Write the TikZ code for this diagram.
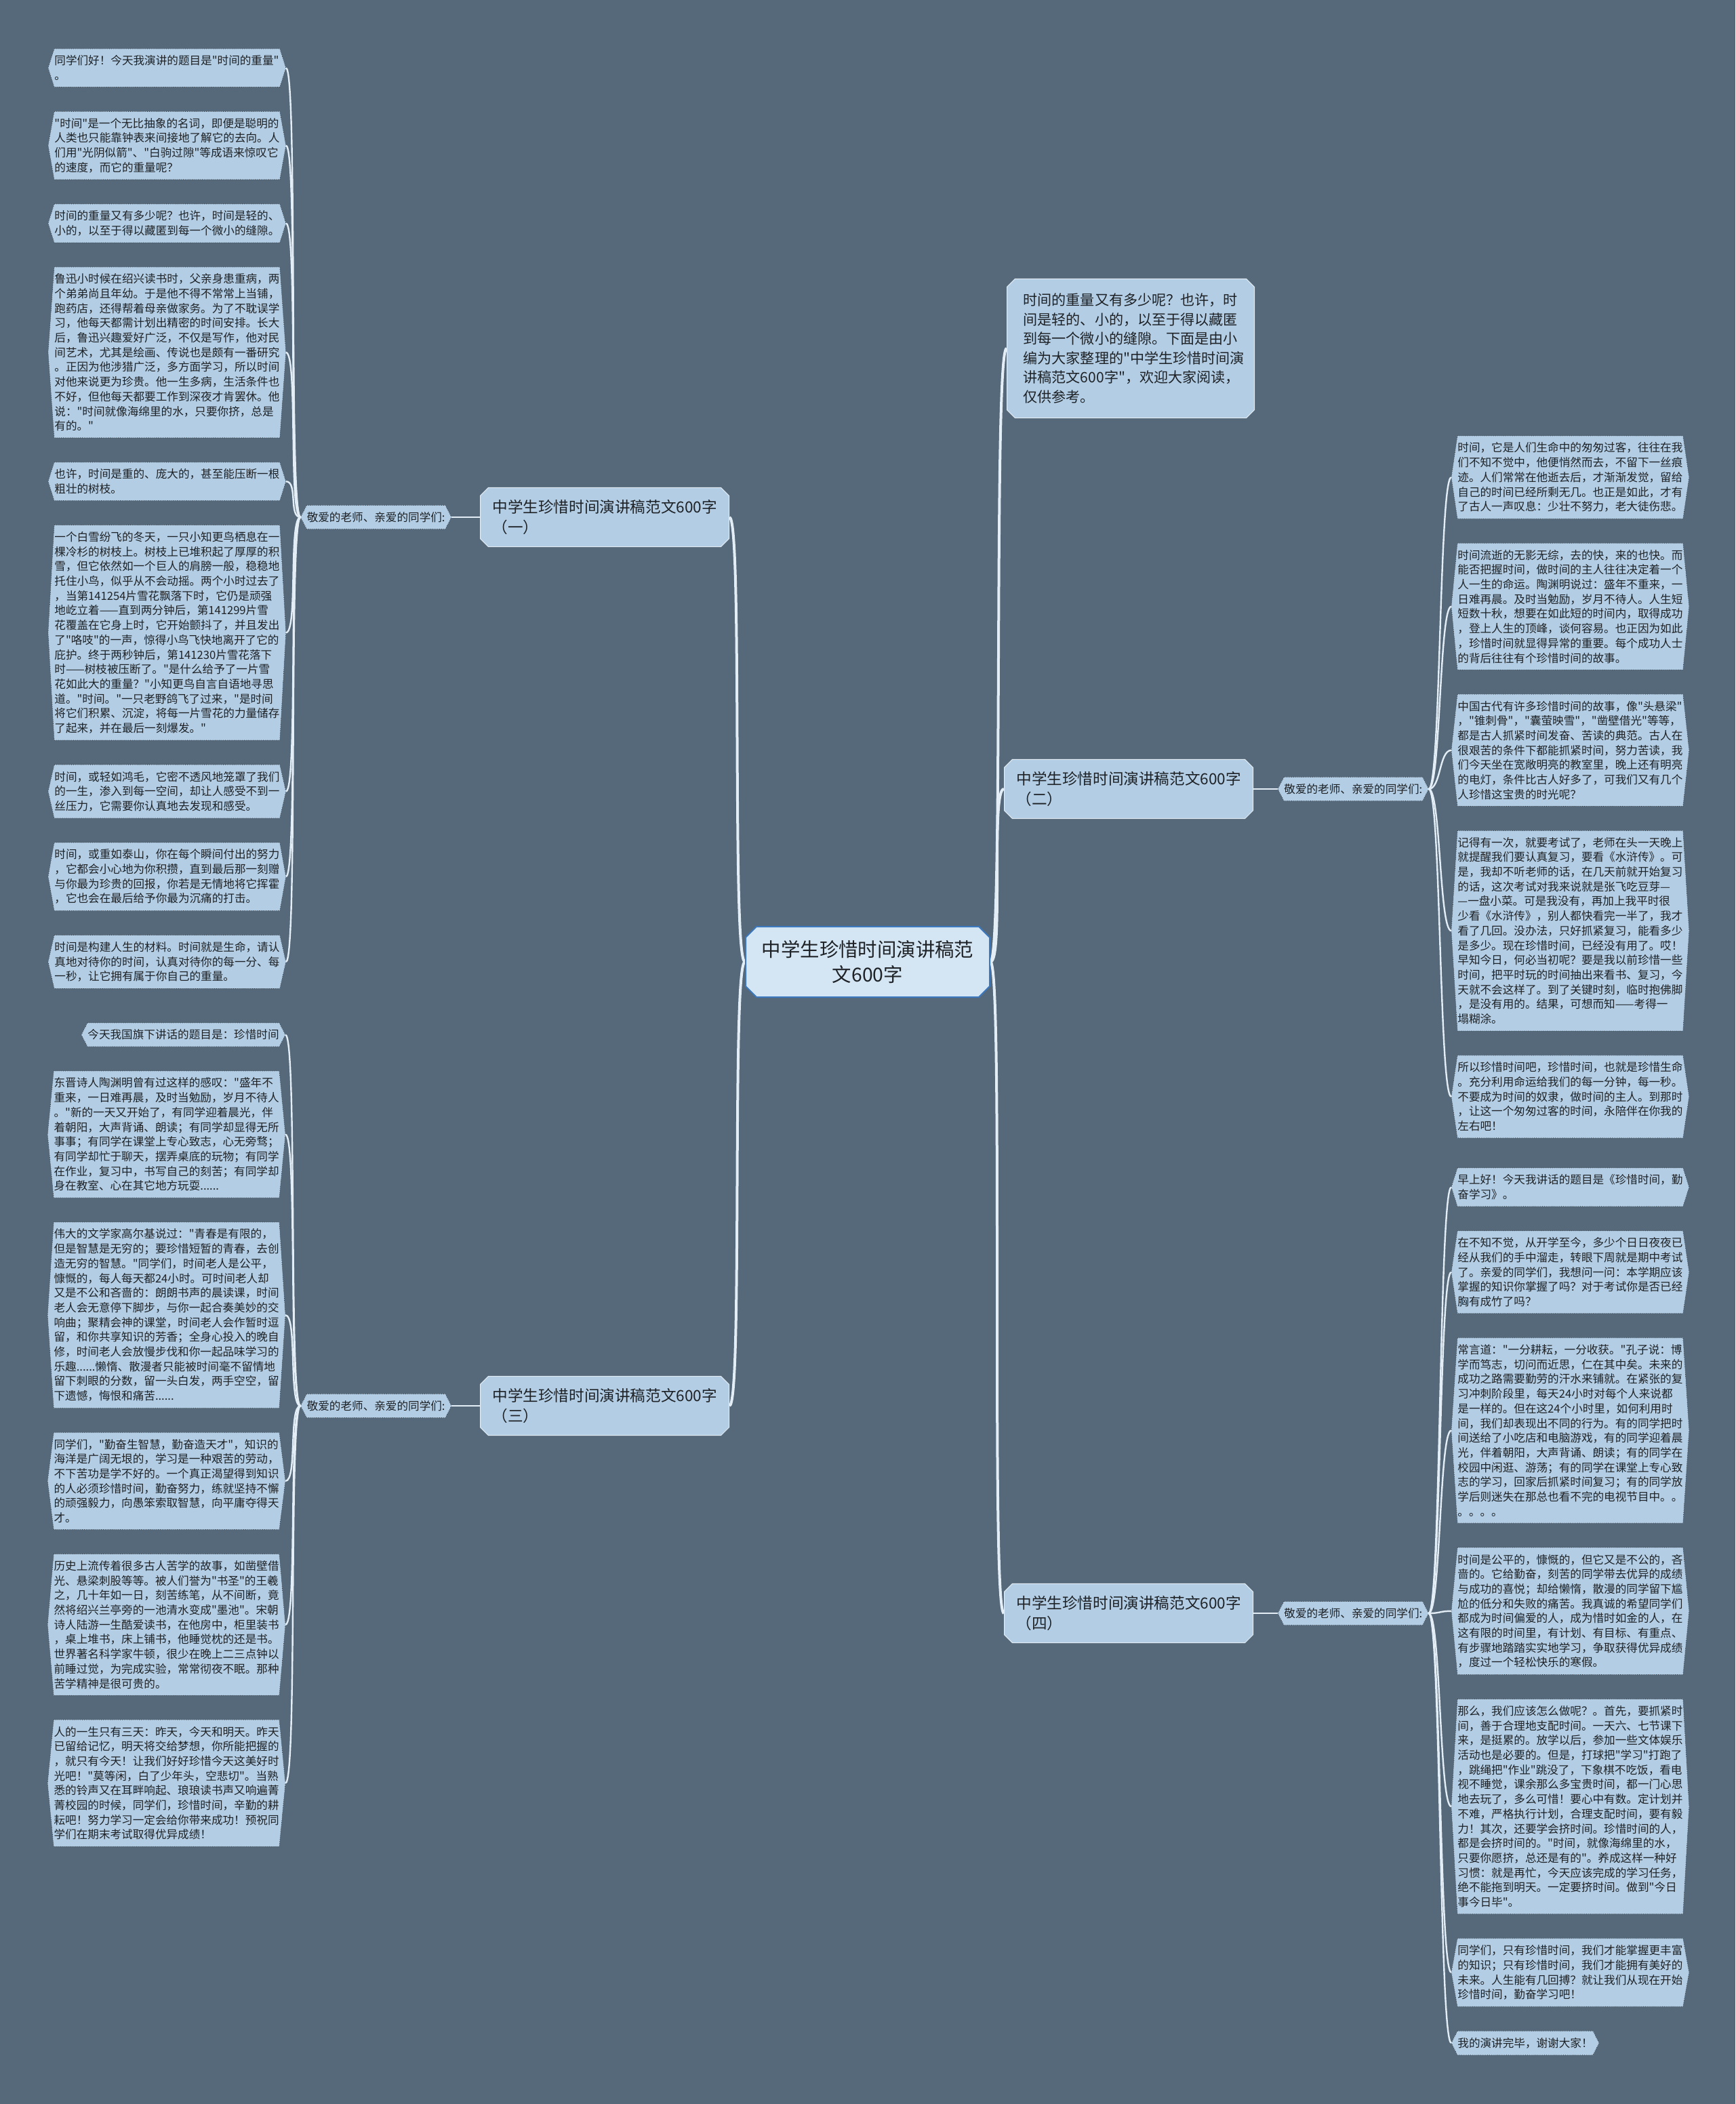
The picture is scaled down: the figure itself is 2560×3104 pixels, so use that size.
\documentclass[tikz,border=0pt]{standalone}
\usepackage{fontspec}
\newfontfamily\cjk{Noto Sans CJK SC}
\usetikzlibrary{positioning,calc,shapes.misc,backgrounds}
\definecolor{slate}{RGB}{86,105,122}
\definecolor{paleblue}{RGB}{178,205,228}
\definecolor{rootfill}{RGB}{212,230,243}
\definecolor{rootline}{RGB}{60,120,190}
\definecolor{twigc}{RGB}{226,237,246}
\definecolor{ink}{RGB}{30,34,38}
\definecolor{dotc}{RGB}{55,60,66}

\begin{document}
\begin{tikzpicture}[x=0.5pt,y=-0.5pt,
  root/.style={chamfered rectangle,chamfered rectangle xsep=4pt,chamfered rectangle ysep=4pt,fill=rootfill,draw=rootline,line width=1pt,text=ink,align=center,minimum width=180pt,minimum height=52pt,inner sep=0pt,font=\cjk\fontsize{14.2}{18.5}\selectfont},
  topic/.style={chamfered rectangle,chamfered rectangle xsep=3pt,chamfered rectangle ysep=3pt,fill=paleblue,draw=twigc,line width=0.5pt,text=ink,align=left,text width=165.5pt,inner sep=6pt,font=\cjk\fontsize{11.3}{15}\selectfont},
  intro/.style={topic,text width=158.5pt,inner xsep=9pt,inner ysep=7.8pt,font=\cjk\fontsize{10.55}{14.25}\selectfont},
  tag/.style={text=ink,align=left,inner xsep=4.5pt,inner ysep=4.7pt,font=\cjk\fontsize{8.3}{10.85}\selectfont},
  leaf/.style={tag,text width=166pt},
  hexa/.style={fill=paleblue,draw=dotc,densely dotted,line width=0.4pt},
  trunk/.style={draw=twigc,line width=2pt},
  twig/.style={draw=twigc,line width=1.2pt}
]
\useasboundingbox (0,0) rectangle (2560,3104);

\node[root] (root) at (1280,1419) {中学生珍惜时间演讲稿范\\文600字};
\node[intro] (intro) at (1668,514) {时间的重量又有多少呢？也许，时\\间是轻的、小的，以至于得以藏匿\\到每一个微小的缝隙。下面是由小\\编为大家整理的"中学生珍惜时间演\\讲稿范文600字"，欢迎大家阅读，\\仅供参考。};
\node[topic] (b1) at (892,763) {中学生珍惜时间演讲稿范文600字\\（一）};
\node[topic] (b2) at (1665,1164) {中学生珍惜时间演讲稿范文600字\\（二）};
\node[topic] (b3) at (892,2074) {中学生珍惜时间演讲稿范文600字\\（三）};
\node[topic] (b4) at (1665,2380) {中学生珍惜时间演讲稿范文600字\\（四）};
\node[tag,left=21pt of b1] (lab1) {敬爱的老师、亲爱的同学们:};
\node[tag,right=18pt of b2] (lab2) {敬爱的老师、亲爱的同学们:};
\node[tag,left=21pt of b3] (lab3) {敬爱的老师、亲爱的同学们:};
\node[tag,right=18pt of b4] (lab4) {敬爱的老师、亲爱的同学们:};

% (一)
\node[leaf,anchor=north west] (L1) at (71,72) {同学们好！今天我演讲的题目是"时间的重量"\\。};
\node[leaf,below=18pt of L1] (L2) {"时间"是一个无比抽象的名词，即便是聪明的\\人类也只能靠钟表来间接地了解它的去向。人\\们用"光阴似箭"、"白驹过隙"等成语来惊叹它\\的速度，而它的重量呢？};
\node[leaf,below=18pt of L2] (L3) {时间的重量又有多少呢？也许，时间是轻的、\\小的，以至于得以藏匿到每一个微小的缝隙。};
\node[leaf,below=18pt of L3] (L4) {鲁迅小时候在绍兴读书时，父亲身患重病，两\\个弟弟尚且年幼。于是他不得不常常上当铺，\\跑药店，还得帮着母亲做家务。为了不耽误学\\习，他每天都需计划出精密的时间安排。长大\\后，鲁迅兴趣爱好广泛，不仅是写作，他对民\\间艺术，尤其是绘画、传说也是颇有一番研究\\。正因为他涉猎广泛，多方面学习，所以时间\\对他来说更为珍贵。他一生多病，生活条件也\\不好，但他每天都要工作到深夜才肯罢休。他\\说："时间就像海绵里的水，只要你挤，总是\\有的。"};
\node[leaf,below=18pt of L4] (L5) {也许，时间是重的、庞大的，甚至能压断一根\\粗壮的树枝。};
\node[leaf,below=18pt of L5] (L6) {一个白雪纷飞的冬天，一只小知更鸟栖息在一\\棵冷杉的树枝上。树枝上已堆积起了厚厚的积\\雪，但它依然如一个巨人的肩膀一般，稳稳地\\托住小鸟，似乎从不会动摇。两个小时过去了\\，当第141254片雪花飘落下时，它仍是顽强\\地屹立着——直到两分钟后，第141299片雪\\花覆盖在它身上时，它开始颤抖了，并且发出\\了"咯吱"的一声，惊得小鸟飞快地离开了它的\\庇护。终于两秒钟后，第141230片雪花落下\\时——树枝被压断了。"是什么给予了一片雪\\花如此大的重量？"小知更鸟自言自语地寻思\\道。"时间。"一只老野鸽飞了过来，"是时间\\将它们积累、沉淀，将每一片雪花的力量储存\\了起来，并在最后一刻爆发。"};
\node[leaf,below=18pt of L6] (L7) {时间，或轻如鸿毛，它密不透风地笼罩了我们\\的一生，渗入到每一空间，却让人感受不到一\\丝压力，它需要你认真地去发现和感受。};
\node[leaf,below=18pt of L7] (L8) {时间，或重如泰山，你在每个瞬间付出的努力\\，它都会小心地为你积攒，直到最后那一刻赠\\与你最为珍贵的回报，你若是无情地将它挥霍\\，它也会在最后给予你最为沉痛的打击。};
\node[leaf,below=18pt of L8] (L9) {时间是构建人生的材料。时间就是生命，请认\\真地对待你的时间，认真对待你的每一分、每\\一秒，让它拥有属于你自己的重量。};

% (三)
\node[tag,anchor=north east] (M1) at (421,1509) {今天我国旗下讲话的题目是：珍惜时间};
\node[leaf,below=18pt of M1.south east,anchor=north east] (M2) {东晋诗人陶渊明曾有过这样的感叹："盛年不\\重来，一日难再晨，及时当勉励，岁月不待人\\。"新的一天又开始了，有同学迎着晨光，伴\\着朝阳，大声背诵、朗读；有同学却显得无所\\事事；有同学在课堂上专心致志，心无旁骛；\\有同学却忙于聊天，摆弄桌底的玩物；有同学\\在作业，复习中，书写自己的刻苦；有同学却\\身在教室、心在其它地方玩耍......};
\node[leaf,below=18pt of M2] (M3) {伟大的文学家高尔基说过："青春是有限的，\\但是智慧是无穷的；要珍惜短暂的青春，去创\\造无穷的智慧。"同学们，时间老人是公平，\\慷慨的，每人每天都24小时。可时间老人却\\又是不公和吝啬的：朗朗书声的晨读课，时间\\老人会无意停下脚步，与你一起合奏美妙的交\\响曲；聚精会神的课堂，时间老人会作暂时逗\\留，和你共享知识的芳香；全身心投入的晚自\\修，时间老人会放慢步伐和你一起品味学习的\\乐趣......懒惰、散漫者只能被时间毫不留情地\\留下刺眼的分数，留一头白发，两手空空，留\\下遗憾，悔恨和痛苦......};
\node[leaf,below=18pt of M3] (M4) {同学们，"勤奋生智慧，勤奋造天才"，知识的\\海洋是广阔无垠的，学习是一种艰苦的劳动，\\不下苦功是学不好的。一个真正渴望得到知识\\的人必须珍惜时间，勤奋努力，练就坚持不懈\\的顽强毅力，向愚笨索取智慧，向平庸夺得天\\才。};
\node[leaf,below=18pt of M4] (M5) {历史上流传着很多古人苦学的故事，如凿壁借\\光、悬梁刺股等等。被人们誉为"书圣"的王羲\\之，几十年如一日，刻苦练笔，从不间断，竟\\然将绍兴兰亭旁的一池清水变成"墨池"。宋朝\\诗人陆游一生酷爱读书，在他房中，柜里装书\\，桌上堆书，床上铺书，他睡觉枕的还是书。\\世界著名科学家牛顿，很少在晚上二三点钟以\\前睡过觉，为完成实验，常常彻夜不眠。那种\\苦学精神是很可贵的。};
\node[leaf,below=18pt of M5] (M6) {人的一生只有三天：昨天，今天和明天。昨天\\已留给记忆，明天将交给梦想，你所能把握的\\，就只有今天！让我们好好珍惜今天这美好时\\光吧！"莫等闲，白了少年头，空悲切"。当熟\\悉的铃声又在耳畔响起、琅琅读书声又响遍菁\\菁校园的时候，同学们，珍惜时间，辛勤的耕\\耘吧！努力学习一定会给你带来成功！预祝同\\学们在期末考试取得优异成绩！};

% (二)
\node[leaf,anchor=north west] (R1) at (2141,643) {时间，它是人们生命中的匆匆过客，往往在我\\们不知不觉中，他便悄然而去，不留下一丝痕\\迹。人们常常在他逝去后，才渐渐发觉，留给\\自己的时间已经所剩无几。也正是如此，才有\\了古人一声叹息：少壮不努力，老大徒伤悲。};
\node[leaf,below=18pt of R1] (R2) {时间流逝的无影无综，去的快，来的也快。而\\能否把握时间，做时间的主人往往决定着一个\\人一生的命运。陶渊明说过：盛年不重来，一\\日难再晨。及时当勉励，岁月不待人。人生短\\短数十秋，想要在如此短的时间内，取得成功\\，登上人生的顶峰，谈何容易。也正因为如此\\，珍惜时间就显得异常的重要。每个成功人士\\的背后往往有个珍惜时间的故事。};
\node[leaf,below=18pt of R2] (R3) {中国古代有许多珍惜时间的故事，像"头悬梁"\\，"锥刺骨"，"囊萤映雪"，"凿壁借光"等等，\\都是古人抓紧时间发奋、苦读的典范。古人在\\很艰苦的条件下都能抓紧时间，努力苦读，我\\们今天坐在宽敞明亮的教室里，晚上还有明亮\\的电灯，条件比古人好多了，可我们又有几个\\人珍惜这宝贵的时光呢？};
\node[leaf,below=18pt of R3] (R4) {记得有一次，就要考试了，老师在头一天晚上\\就提醒我们要认真复习，要看《水浒传》。可\\是，我却不听老师的话，在几天前就开始复习\\的话，这次考试对我来说就是张飞吃豆芽—\\—一盘小菜。可是我没有，再加上我平时很\\少看《水浒传》，别人都快看完一半了，我才\\看了几回。没办法，只好抓紧复习，能看多少\\是多少。现在珍惜时间，已经没有用了。哎！\\早知今日，何必当初呢？要是我以前珍惜一些\\时间，把平时玩的时间抽出来看书、复习，今\\天就不会这样了。到了关键时刻，临时抱佛脚\\，是没有用的。结果，可想而知——考得一\\塌糊涂。};
\node[leaf,below=18pt of R4] (R5) {所以珍惜时间吧，珍惜时间，也就是珍惜生命\\。充分利用命运给我们的每一分钟，每一秒。\\不要成为时间的奴隶，做时间的主人。到那时\\，让这一个匆匆过客的时间，永陪伴在你我的\\左右吧！};

% (四)
\node[leaf,anchor=north west] (S1) at (2141,1723) {早上好！今天我讲话的题目是《珍惜时间，勤\\奋学习》。};
\node[leaf,below=18pt of S1] (S2) {在不知不觉，从开学至今，多少个日日夜夜已\\经从我们的手中溜走，转眼下周就是期中考试\\了。亲爱的同学们，我想问一问：本学期应该\\掌握的知识你掌握了吗？对于考试你是否已经\\胸有成竹了吗？};
\node[leaf,below=18pt of S2] (S3) {常言道："一分耕耘，一分收获。"孔子说：博\\学而笃志，切问而近思，仁在其中矣。未来的\\成功之路需要勤劳的汗水来铺就。在紧张的复\\习冲刺阶段里，每天24小时对每个人来说都\\是一样的。但在这24个小时里，如何利用时\\间，我们却表现出不同的行为。有的同学把时\\间送给了小吃店和电脑游戏，有的同学迎着晨\\光，伴着朝阳，大声背诵、朗读；有的同学在\\校园中闲逛、游荡；有的同学在课堂上专心致\\志的学习，回家后抓紧时间复习；有的同学放\\学后则迷失在那总也看不完的电视节目中。。\\。。。。};
\node[leaf,below=18pt of S3] (S4) {时间是公平的，慷慨的，但它又是不公的，吝\\啬的。它给勤奋，刻苦的同学带去优异的成绩\\与成功的喜悦；却给懒惰，散漫的同学留下尴\\尬的低分和失败的痛苦。我真诚的希望同学们\\都成为时间偏爱的人，成为惜时如金的人，在\\这有限的时间里，有计划、有目标、有重点、\\有步骤地踏踏实实地学习，争取获得优异成绩\\，度过一个轻松快乐的寒假。};
\node[leaf,below=18pt of S4] (S5) {那么，我们应该怎么做呢？。首先，要抓紧时\\间，善于合理地支配时间。一天六、七节课下\\来，是挺累的。放学以后，参加一些文体娱乐\\活动也是必要的。但是，打球把"学习"打跑了\\，跳绳把"作业"跳没了，下象棋不吃饭，看电\\视不睡觉，课余那么多宝贵时间，都一门心思\\地去玩了，多么可惜！要心中有数。定计划并\\不难，严格执行计划，合理支配时间，要有毅\\力！其次，还要学会挤时间。珍惜时间的人，\\都是会挤时间的。"时间，就像海绵里的水，\\只要你愿挤，总还是有的"。养成这样一种好\\习惯：就是再忙，今天应该完成的学习任务，\\绝不能拖到明天。一定要挤时间。做到"今日\\事今日毕"。};
\node[leaf,below=18pt of S5] (S6) {同学们，只有珍惜时间，我们才能掌握更丰富\\的知识；只有珍惜时间，我们才能拥有美好的\\未来。人生能有几回搏？就让我们从现在开始\\珍惜时间，勤奋学习吧！};
\node[tag,below=18pt of S6.south west,anchor=north west] (S7) {我的演讲完毕，谢谢大家！};

\begin{scope}[on background layer]
\fill[slate] (0,0) rectangle (2560,3104);
% pointed boxes
\foreach \n in {L1,L2,L3,L4,L5,L6,L7,L8,L9,M1,M2,M3,M4,M5,M6,R1,R2,R3,R4,R5,S1,S2,S3,S4,S5,S6,S7,lab1,lab2,lab3,lab4}
  \draw[hexa] ([xshift=4.5pt]\n.north west) -- ([xshift=-4.5pt]\n.north east) -- (\n.east) -- ([xshift=-4.5pt]\n.south east) -- ([xshift=4.5pt]\n.south west) -- (\n.west) -- cycle;
% connectors
\draw[trunk] (root.west) .. controls +(-20,0) and +(20,0) .. (b1.east);
\draw[trunk] (root.west) .. controls +(-20,0) and +(20,0) .. (b3.east);
\draw[trunk] (root.east) .. controls +(20,0) and +(-20,0) .. (intro.west);
\draw[trunk] (root.east) .. controls +(20,0) and +(-20,0) .. (b2.west);
\draw[trunk] (root.east) .. controls +(20,0) and +(-20,0) .. (b4.west);
\draw[twig] (b1.west) -- (lab1.east);
\draw[twig] (b3.west) -- (lab3.east);
\draw[twig] (b2.east) -- (lab2.west);
\draw[twig] (b4.east) -- (lab4.west);
\foreach \i in {1,...,9}
  \draw[twig] (lab1.west) .. controls +(-18,0) and +(18,0) .. (L\i.east);
\foreach \i in {1,...,6}
  \draw[twig] (lab3.west) .. controls +(-18,0) and +(18,0) .. (M\i.east);
\foreach \i in {1,...,5}
  \draw[twig] (lab2.east) .. controls +(18,0) and +(-18,0) .. (R\i.west);
\foreach \i in {1,...,7}
  \draw[twig] (lab4.east) .. controls +(18,0) and +(-18,0) .. (S\i.west);
\end{scope}
\end{tikzpicture}
\end{document}
